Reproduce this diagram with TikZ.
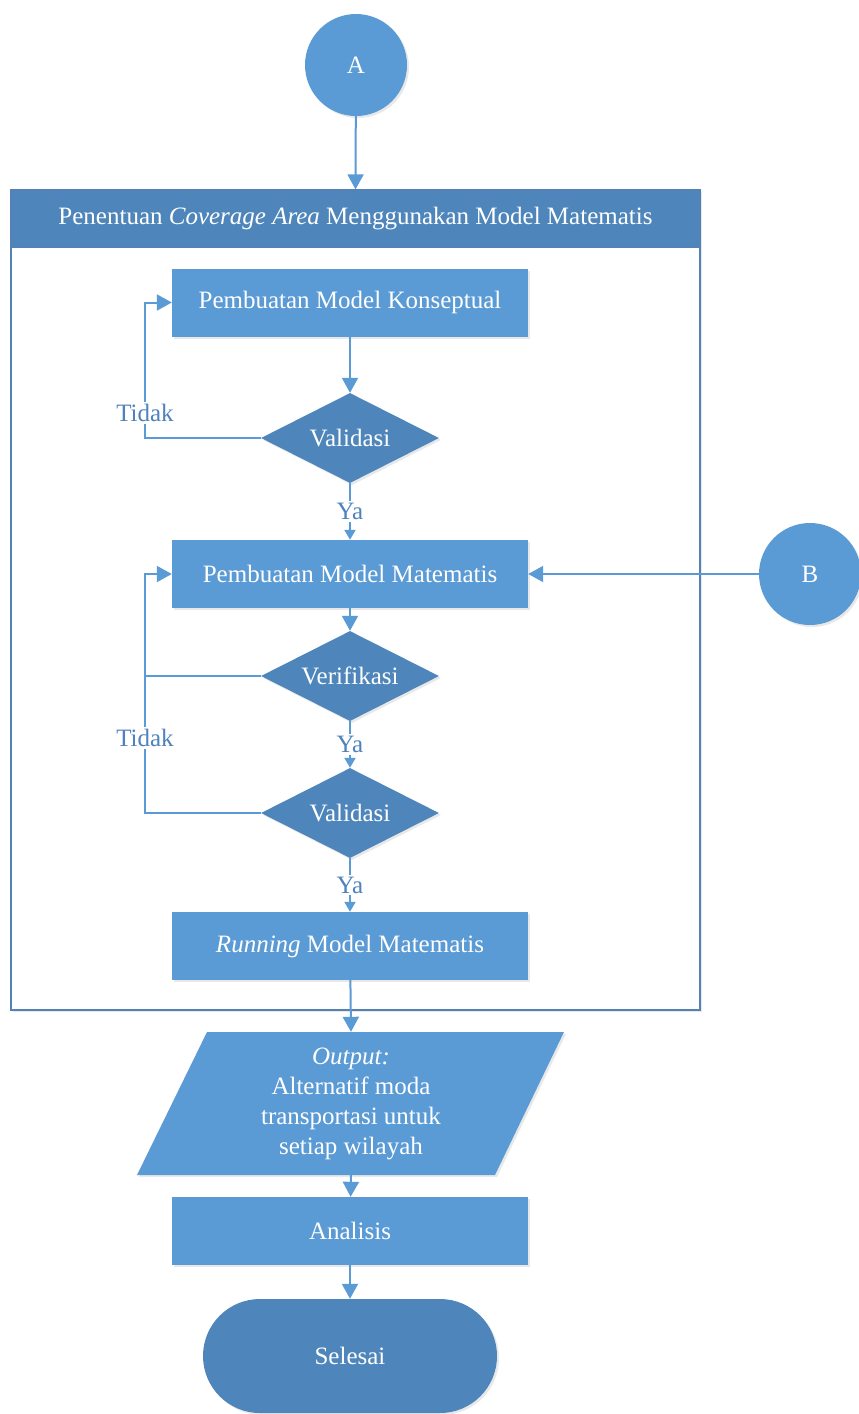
\documentclass[tikz,border=0pt]{standalone}
\usepackage{fontspec}
\setmainfont{Liberation Serif}
\usetikzlibrary{shapes.geometric,arrows.meta,shadows,calc}
\definecolor{boxblue}{RGB}{91,155,213}
\definecolor{deepblue}{RGB}{78,134,187}
\definecolor{lineblue}{RGB}{91,155,213}
\definecolor{labelblue}{RGB}{79,129,189}
\definecolor{laneedge}{RGB}{84,130,180}
\begin{document}
\begin{tikzpicture}[x=1pt,y=-1pt,
  font=\fontsize{25}{30}\selectfont,
  softshadow/.style={drop shadow={opacity=0.18,shadow xshift=2pt,shadow yshift=-2pt}},
  procbox/.style={rectangle,fill=boxblue,text=white,minimum width=356pt,minimum height=68pt,inner sep=0pt,softshadow},
  decision/.style={diamond,shape aspect=2,fill=deepblue,text=white,minimum width=178pt,minimum height=90pt,inner sep=0pt,softshadow},
  connector/.style={circle,fill=boxblue,text=white,minimum size=102pt,inner sep=0pt,softshadow},
  flow/.style={draw=lineblue,line width=2pt,-{Triangle[width=16pt,length=15pt]}},
  shortflow/.style={draw=lineblue,line width=2pt,-{Triangle[width=11pt,length=10pt]}},
  plainline/.style={draw=lineblue,line width=2pt},
  answer/.style={text=labelblue,fill=white,inner sep=2pt},
]
\useasboundingbox (0,0) rectangle (859,1414);

% swimlane container with its title band
\node[rectangle,draw=laneedge,line width=1.2pt,fill=white,minimum width=689pt,minimum height=820pt,inner sep=0pt,softshadow] (lane) at (355.5,600) {};
\node[rectangle,draw=laneedge,line width=1.2pt,fill=deepblue,text=white,minimum width=689pt,minimum height=57pt,inner sep=0pt] (lanehead) at (355.5,218.5)
  {Penentuan \textit{Coverage Area} Menggunakan Model Matematis};

% off-page connectors
\node[connector] (A) at (356,65) {A};
\node[connector] (B) at (810,574) {B};

% process steps and decisions
\node[procbox] (k1) at (350,302.5) {Pembuatan Model Konseptual};
\node[decision] (v1) at (350,438) {Validasi};
\node[procbox] (k2) at (350,574) {Pembuatan Model Matematis};
\node[decision] (vf) at (350,676) {Verifikasi};
\node[decision] (v2) at (350,813) {Validasi};
\node[procbox] (run) at (350,946) {\textit{Running} Model Matematis};

% output parallelogram
\path[fill=boxblue,softshadow] (207,1032) -- (564,1032) -- (495,1175) -- (137,1175) -- cycle;
\node[rectangle,text=white,align=center,minimum width=300pt,minimum height=143pt,inner sep=0pt] (out) at (351,1103.5)
  {\textit{Output:}\\Alternatif moda\\transportasi untuk\\setiap wilayah};

\node[procbox] (an) at (350,1231) {Analisis};
\node[rectangle,rounded corners=57pt,fill=deepblue,text=white,minimum width=294pt,minimum height=114pt,inner sep=0pt,softshadow] (end) at (350,1356) {Selesai};

% connectors
\draw[flow] (A) -- (lanehead.north);
\draw[flow] (k1) -- (v1);
\draw[shortflow] (v1) -- node[answer] {Ya} (k2);
\draw[flow] (B) -- (k2);
\draw[flow] (k2) -- (vf);
\draw[shortflow] (vf) -- node[answer] {Ya} (v2);
\draw[shortflow] (v2) -- node[answer] {Ya} (run);
\draw[flow] (run) -- (out.north);
\draw[flow] (out.south) -- (an);
\draw[flow] (an) -- (end);

% rejection loops
\draw[flow] (v1.west) -| ($(k1.west)+(-27,0)$) -- (k1.west);
\node[answer] (no1) at (145,413) {Tidak};
\draw[plainline] (vf.west) -- ($(k2.west)+(-27,102)$);
\draw[flow] (v2.west) -| ($(k2.west)+(-27,0)$) -- (k2.west);
\node[answer] (no2) at (145,738) {Tidak};
\end{tikzpicture}
\end{document}
